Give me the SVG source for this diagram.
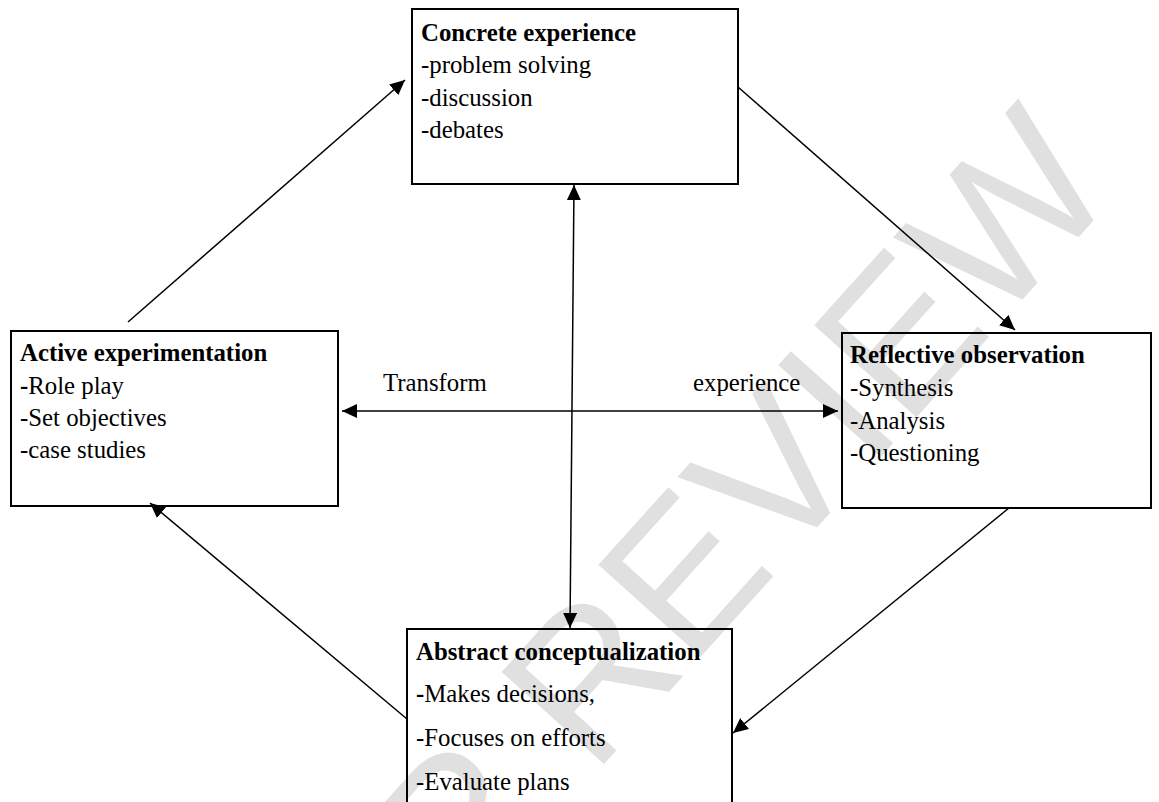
<svg xmlns="http://www.w3.org/2000/svg" width="1159" height="802" viewBox="0 0 1159 802">
<defs>
<style>
.box{fill:none;stroke:#000;stroke-width:2}
.t{font-family:"Liberation Serif","Times New Roman",serif;font-size:24.8px;fill:#000}
.b{font-weight:bold}
.c{stroke:#000;stroke-width:1.5;fill:none}
.wm{font-family:"Liberation Sans",Arial,sans-serif;font-size:200px;fill:#e0e0e0}
</style>
<marker id="ah" markerUnits="userSpaceOnUse" markerWidth="16" markerHeight="14" refX="15" refY="7" orient="auto-start-reverse"><path d="M0,0 L15,7 L0,14 z" fill="#000"/></marker>
</defs>
<rect width="1159" height="802" fill="#fff"/>
<g id="watermark">
<text class="wm" x="1121" y="190" text-anchor="end" transform="rotate(-48 1121 190)">FOR PEER REVIEW</text>
</g>
<g id="connectors">
<line class="c" x1="128" y1="322" x2="405" y2="80" stroke-width="2" marker-end="url(#ah)"/>
<line class="c" x1="738" y1="87" x2="1015" y2="330" marker-end="url(#ah)"/>
<line class="c" x1="1009" y1="508" x2="733" y2="733" marker-end="url(#ah)"/>
<line class="c" x1="407" y1="719" x2="150" y2="503" marker-end="url(#ah)"/>
<line class="c" x1="574" y1="185" x2="570" y2="628" marker-start="url(#ah)" marker-end="url(#ah)"/>
<line class="c" x1="342" y1="411" x2="838" y2="411" marker-start="url(#ah)" marker-end="url(#ah)"/>
<text class="t" x="383" y="391">Transform</text>
<text class="t" x="693" y="391">experience</text>
</g>
<g id="concrete">
<rect class="box" x="412" y="9" width="326" height="175"/>
<text class="t b" x="421" y="41">Concrete experience</text>
<text class="t" x="421" y="73">-problem solving</text>
<text class="t" x="421" y="106">-discussion</text>
<text class="t" x="421" y="138">-debates</text>
</g>
<g id="active">
<rect class="box" x="11" y="331" width="327" height="175"/>
<text class="t b" x="20" y="361">Active experimentation</text>
<text class="t" x="20" y="394"><tspan class="b">-</tspan>Role play</text>
<text class="t" x="20" y="426">-Set objectives</text>
<text class="t" x="20" y="458">-case studies</text>
</g>
<g id="reflective">
<rect class="box" x="842" y="333" width="309" height="175"/>
<text class="t b" x="850" y="363">Reflective observation</text>
<text class="t" x="850" y="396">-Synthesis</text>
<text class="t" x="850" y="429">-Analysis</text>
<text class="t" x="850" y="461">-Questioning</text>
</g>
<g id="abstract">
<rect class="box" x="407" y="629" width="325" height="185"/>
<text class="t b" x="416" y="660">Abstract conceptualization</text>
<text class="t" x="416" y="702"><tspan class="b">-</tspan>Makes decisions,</text>
<text class="t" x="416" y="746">-Focuses on efforts</text>
<text class="t" x="416" y="790">-Evaluate plans</text>
</g>
</svg>
